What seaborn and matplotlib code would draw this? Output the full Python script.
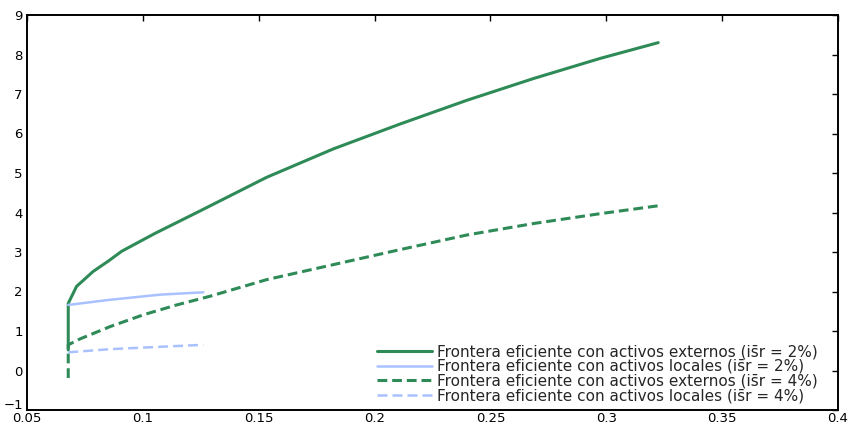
import matplotlib
matplotlib.use("Agg")
import matplotlib.pyplot as plt
import matplotlib.transforms as mtransforms
import seaborn as sns
import pandas as pd

# Data
ext2_x = [0.0678, 0.0678, 0.0714, 0.0786, 0.0851, 0.0909, 0.1052, 0.1247, 0.1534,
          0.1822, 0.2110, 0.2398, 0.2685, 0.2973, 0.3224]
ext2_y = [0.52, 1.70, 2.13, 2.51, 2.77, 3.02, 3.47, 4.04, 4.89,
          5.61, 6.24, 6.84, 7.39, 7.90, 8.30]

loc2_x = [0.0678, 0.0858, 0.1074, 0.1261]
loc2_y = [1.66, 1.79, 1.92, 1.98]

ext4_x = [0.0678, 0.0678, 0.0729, 0.0858, 0.1002, 0.1146, 0.1290, 0.1534, 0.1822,
          0.2110, 0.2398, 0.2685, 0.2973, 0.3224]
ext4_y = [-0.19, 0.65, 0.80, 1.11, 1.41, 1.66, 1.88, 2.30, 2.68,
          3.06, 3.43, 3.72, 3.97, 4.17]

loc4_x = [0.0678, 0.0858, 0.1074, 0.1261]
loc4_y = [0.46, 0.54, 0.60, 0.65]

labels = [
    "Frontera eficiente con activos externos (is\u0304r = 2%)",
    "Frontera eficiente con activos locales (is\u0304r = 2%)",
    "Frontera eficiente con activos externos (is\u0304r = 4%)",
    "Frontera eficiente con activos locales (is\u0304r = 4%)",
]

x_ticks = [0.05, 0.1, 0.15, 0.2, 0.25, 0.3, 0.35, 0.4]
x_tick_labels = ["0.05", "0.1", "0.15", "0.2", "0.25", "0.3", "0.35", "0.4"]
y_ticks = list(range(-1, 10))

sns.set_style("white")
plt.rcParams["font.family"] = ["DejaVu Sans"]

fig = plt.figure(figsize=(8.52, 4.26), dpi=100)
ax = fig.add_axes([27 / 852, 16 / 426, (838 - 27) / 852, (410 - 15) / 426])

green = "#2e8b57"
blue = "#a9c1ff"
series = [
    (ext2_x, ext2_y, labels[0], green, "-", 2.2),
    (loc2_x, loc2_y, labels[1], blue, "-", 1.8),
    (ext4_x, ext4_y, labels[2], green, (0, (3.2, 1.6)), 2.2),
    (loc4_x, loc4_y, labels[3], blue, (0, (4, 2)), 1.8),
]
for xs, ys, lab, col, ls, lw in series:
    df = pd.DataFrame({"x": xs, "y": ys})
    sns.lineplot(data=df, x="x", y="y", ax=ax, sort=False, estimator=None,
                 color=col, linestyle=ls, linewidth=lw, label=lab)

ax.set_xlim(0.05, 0.4)
ax.set_ylim(-1, 9)
ax.set_xticks(x_ticks)
ax.set_xticklabels(x_tick_labels)
ax.set_yticks(y_ticks)
ax.set_xlabel("")
ax.set_ylabel("")
ax.tick_params(direction="in", length=4, width=1, labelsize=9.5, colors="black",
               top=True, right=True)
ax.tick_params(axis="x", pad=1.5)
ax.tick_params(axis="y", pad=3)
for s in ax.spines.values():
    s.set_visible(True)
    s.set_color("black")
    s.set_linewidth(1.4)

# nudge the lowest y label up a little so it does not collide with "0.05"
fig.canvas.draw()
lab0 = ax.get_yticklabels()[0]
lab0.set_transform(lab0.get_transform() + mtransforms.ScaledTranslation(0, 4 / 72, fig.dpi_scale_trans))

leg = ax.legend(loc="lower right", bbox_to_anchor=(0.975, 0.017), frameon=False,
                fontsize=11, handlelength=3.6, labelspacing=-0.02, handletextpad=0.3,
                borderpad=0, borderaxespad=0)

fig.savefig("out.png", dpi=100)
